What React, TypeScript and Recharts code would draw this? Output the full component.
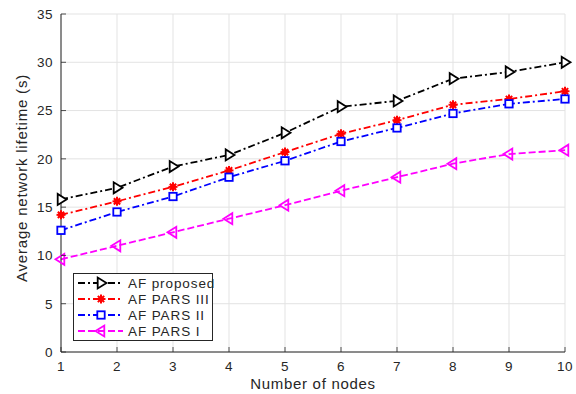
import React from 'react';
import { LineChart, Line, XAxis, YAxis, CartesianGrid, Legend } from 'recharts';

// values
const nodes = [1, 2, 3, 4, 5, 6, 7, 8, 9, 10];
const afProposed = [15.8, 17.0, 19.2, 20.4, 22.7, 25.4, 26.0, 28.3, 29.0, 30.0];
const afParsIII = [14.2, 15.6, 17.1, 18.8, 20.7, 22.6, 24.0, 25.6, 26.2, 27.0];
const afParsII = [12.6, 14.5, 16.1, 18.1, 19.8, 21.8, 23.2, 24.7, 25.7, 26.2];
const afParsI = [9.6, 11.0, 12.4, 13.8, 15.2, 16.7, 18.1, 19.5, 20.5, 20.9];
const yTicks = [0, 5, 10, 15, 20, 25, 30, 35];

const data = nodes.map((n, i) => ({
  n,
  proposed: afProposed[i],
  parsIII: afParsIII[i],
  parsII: afParsII[i],
  parsI: afParsI[i],
}));

const FONT = 'Liberation Sans, Arial, sans-serif';
const TEXT = '#262626';

type Kind = 'triR' | 'star' | 'square' | 'triL';

const series: { key: string; name: string; color: string; dash: string; marker: Kind }[] = [
  { key: 'proposed', name: 'AF proposed', color: '#000000', dash: '7 3 2 3', marker: 'triR' },
  { key: 'parsIII', name: 'AF PARS III', color: '#ff0000', dash: '7 3 2 3', marker: 'star' },
  { key: 'parsII', name: 'AF PARS II', color: '#0000ff', dash: '7 3 2 3', marker: 'square' },
  { key: 'parsI', name: 'AF PARS I', color: '#ff00ff', dash: '7 3', marker: 'triL' },
];

function Marker({ kind, cx, cy, color }: { kind: Kind; cx: number; cy: number; color: string }) {
  if (kind === 'triR') {
    const r = 5.5;
    return (
      <polygon
        points={`${cx + r},${cy} ${cx - r * 0.6},${cy - r} ${cx - r * 0.6},${cy + r}`}
        fill="white"
        stroke={color}
        strokeWidth={1.8}
      />
    );
  }
  if (kind === 'triL') {
    const r = 5.5;
    return (
      <polygon
        points={`${cx - r},${cy} ${cx + r * 0.6},${cy - r} ${cx + r * 0.6},${cy + r}`}
        fill="none"
        stroke={color}
        strokeWidth={1.8}
      />
    );
  }
  if (kind === 'square') {
    const s = 3.7;
    return (
      <rect x={cx - s} y={cy - s} width={s * 2} height={s * 2} fill="white" stroke={color} strokeWidth={1.8} />
    );
  }
  // asterisk, drawn heavy so it reads as a filled blob
  const r = 4.5;
  const d = r * 0.7;
  return (
    <g stroke={color} strokeWidth={2}>
      <circle cx={cx} cy={cy} r={2.8} fill={color} stroke="none" />
      <line x1={cx - r} y1={cy} x2={cx + r} y2={cy} />
      <line x1={cx} y1={cy - r} x2={cx} y2={cy + r} />
      <line x1={cx - d} y1={cy - d} x2={cx + d} y2={cy + d} />
      <line x1={cx - d} y1={cy + d} x2={cx + d} y2={cy - d} />
    </g>
  );
}

const YTick = (props: any) => {
  const { x, y, payload } = props;
  const axisX = x + 8;
  return (
    <g>
      <line x1={axisX} y1={y} x2={axisX + 5} y2={y} stroke={TEXT} strokeWidth={0.8} />
      <text x={x} y={y} dy={4.8} textAnchor="end" fontSize={13.5} letterSpacing={0.5} fill={TEXT} fontFamily={FONT}>
        {payload.value}
      </text>
    </g>
  );
};

const XTick = (props: any) => {
  const { x, y, payload } = props;
  return (
    <g>
      <line x1={x} y1={y} x2={x} y2={y - 5} stroke={TEXT} strokeWidth={0.8} />
      <text x={x} y={y + 19} textAnchor="middle" fontSize={13.5} letterSpacing={0.5} fill={TEXT} fontFamily={FONT}>
        {payload.value}
      </text>
    </g>
  );
};

const renderLegend = () => (
  <svg width={141} height={69} style={{ display: 'block' }}>
    <rect x={0.5} y={0.5} width={139} height={67} fill="white" stroke={TEXT} strokeWidth={1} />
    {series.map((s, i) => {
      const cy = 10 + i * 16;
      return (
        <g key={s.key}>
          <line x1={5} y1={cy} x2={50} y2={cy} stroke={s.color} strokeWidth={1.8} strokeDasharray={s.dash} />
          <Marker kind={s.marker} cx={28} cy={cy} color={s.color} />
          <text x={55} y={cy + 4.8} fontSize={13.5} letterSpacing={0.9} fill={TEXT} fontFamily={FONT}>
            {s.name}
          </text>
        </g>
      );
    })}
  </svg>
);

export default function App() {
  return (
    <div style={{ position: 'absolute', left: 0, top: 0, background: 'white' }}>
      <LineChart width={576} height={394} data={data} margin={{ top: 14, right: 11, left: 0, bottom: 0 }}>
        <CartesianGrid stroke="#e3e3e3" strokeWidth={1} />
        <XAxis
          dataKey="n"
          type="number"
          domain={[1, 10]}
          ticks={nodes}
          height={42}
          tickSize={0}
          tickMargin={0}
          tick={<XTick />}
          axisLine={{ stroke: TEXT, strokeWidth: 1 }}
          label={{
            content: ({ viewBox }: any) => (
              <text
                x={viewBox.x + viewBox.width / 2}
                y={viewBox.y + 37}
                textAnchor="middle"
                fontSize={15}
                letterSpacing={0.7}
                fill={TEXT}
                fontFamily={FONT}
              >
                Number of nodes
              </text>
            ),
          }}
        />
        <YAxis
          type="number"
          domain={[0, 35]}
          ticks={yTicks}
          width={61}
          tickSize={0}
          tickMargin={8}
          tick={<YTick />}
          axisLine={{ stroke: TEXT, strokeWidth: 1 }}
          label={{
            content: ({ viewBox }: any) => {
              const cx = 27;
              const cy = viewBox.y + viewBox.height / 2 - 5;
              return (
                <text
                  x={cx}
                  y={cy}
                  transform={`rotate(-90 ${cx} ${cy})`}
                  textAnchor="middle"
                  fontSize={15}
                  letterSpacing={0.8}
                  fill={TEXT}
                  fontFamily={FONT}
                >
                  Average network lifetime (s)
                </text>
              );
            },
          }}
        />
        {series.map((s) => (
          <Line
            key={s.key}
            dataKey={s.key}
            name={s.name}
            type="linear"
            stroke={s.color}
            strokeWidth={1.8}
            strokeDasharray={s.dash}
            isAnimationActive={false}
            dot={(p: any) => (
              <Marker key={`${s.key}-${p.index}`} kind={s.marker} cx={p.cx} cy={p.cy} color={s.color} />
            )}
            activeDot={false}
          />
        ))}
        <Legend
          layout="vertical"
          align="center"
          verticalAlign="middle"
          wrapperStyle={{ left: 73, top: 273, width: 141, height: 69 }}
          content={renderLegend}
        />
      </LineChart>
    </div>
  );
}
